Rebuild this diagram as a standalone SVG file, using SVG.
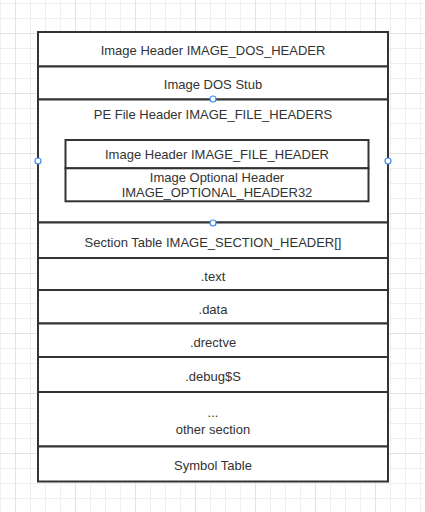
<svg xmlns="http://www.w3.org/2000/svg" width="425" height="512" viewBox="0 0 425 512">
  <defs>
    <pattern id="minor" patternUnits="userSpaceOnUse" x="15" y="3" width="15" height="15">
      <rect x="0" y="0" width="1" height="15" fill="#efefef"/>
      <rect x="0" y="0" width="15" height="1" fill="#efefef"/>
    </pattern>
    <pattern id="major" patternUnits="userSpaceOnUse" x="15" y="33" width="60" height="60">
      <rect x="0" y="0" width="1" height="60" fill="#e3e3e3"/>
      <rect x="0" y="0" width="60" height="1" fill="#e3e3e3"/>
    </pattern>
    <style>
      .box { fill: #ffffff; stroke: #333333; stroke-width: 2; }
      .lbl { font-family: "Liberation Sans", Arial, sans-serif; font-size: 13px; fill: #333333; text-anchor: middle; }
      .handle { fill: #ffffff; stroke: #3b8ff0; stroke-width: 1.2; }
    </style>
  </defs>

  <rect x="0" y="0" width="425" height="512" fill="#ffffff"/>
  <rect x="0" y="0" width="425" height="512" fill="url(#minor)"/>
  <rect x="0" y="0" width="425" height="512" fill="url(#major)"/>

  <g id="dos_header">
    <rect class="box" x="38" y="32" width="350" height="34.5"/>
    <text class="lbl" x="213" y="55">Image Header IMAGE_DOS_HEADER</text>
  </g>
  <g id="dos_stub">
    <rect class="box" x="38" y="66.5" width="350" height="33"/>
    <text class="lbl" x="213" y="88.5">Image DOS Stub</text>
  </g>
  <g id="pe_header">
    <rect class="box" x="38" y="99.5" width="350" height="123"/>
    <text class="lbl" x="213" y="118.5">PE File Header IMAGE_FILE_HEADERS</text>
  </g>
  <g id="file_header">
    <rect class="box" x="65.5" y="140" width="303" height="28.3"/>
    <text class="lbl" x="217" y="159">Image Header IMAGE_FILE_HEADER</text>
  </g>
  <g id="optional_header">
    <rect class="box" x="65.5" y="168.3" width="303" height="33"/>
    <text class="lbl" x="217" y="181.5">Image Optional Header</text>
    <text class="lbl" x="217" y="197.3">IMAGE_OPTIONAL_HEADER32</text>
  </g>
  <g id="section_table">
    <rect class="box" x="38" y="222.5" width="350" height="35.5"/>
    <text class="lbl" x="213" y="246.5">Section Table IMAGE_SECTION_HEADER[]</text>
  </g>
  <g id="text_section">
    <rect class="box" x="38" y="258" width="350" height="32"/>
    <text class="lbl" x="213" y="281">.text</text>
  </g>
  <g id="data_section">
    <rect class="box" x="38" y="290" width="350" height="33.5"/>
    <text class="lbl" x="213" y="313.5">.data</text>
  </g>
  <g id="drectve_section">
    <rect class="box" x="38" y="323.5" width="350" height="33.5"/>
    <text class="lbl" x="213" y="347">.drectve</text>
  </g>
  <g id="debug_section">
    <rect class="box" x="38" y="357" width="350" height="35"/>
    <text class="lbl" x="213" y="381">.debug$S</text>
  </g>
  <g id="other_section">
    <rect class="box" x="38" y="392" width="350" height="54.5"/>
    <text class="lbl" x="213" y="417">...</text>
    <text class="lbl" x="213" y="433.5">other section</text>
  </g>
  <g id="symbol_table">
    <rect class="box" x="38" y="446.5" width="350" height="35"/>
    <text class="lbl" x="213" y="470">Symbol Table</text>
  </g>

  <g id="connectors"></g>

  <g id="handles">
    <circle class="handle" cx="213" cy="99" r="3"/>
    <circle class="handle" cx="38" cy="161" r="3"/>
    <circle class="handle" cx="388" cy="161" r="3"/>
    <circle class="handle" cx="213" cy="223" r="3"/>
  </g>
</svg>
